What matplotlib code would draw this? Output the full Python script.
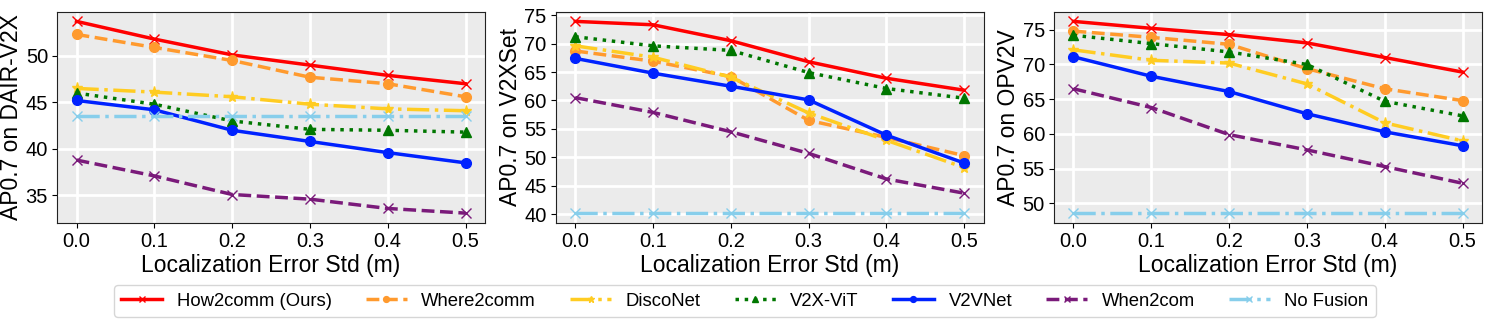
import matplotlib.pyplot as plt

plt.rcParams["font.family"] = ["Liberation Sans", "DejaVu Sans"]

std = [0.0, 0.1, 0.2, 0.3, 0.4, 0.5]
methods = ["How2comm (Ours)", "Where2comm", "DiscoNet", "V2X-ViT", "V2VNet", "When2com", "No Fusion"]

# AP0.7 per method, one list per dataset
dair = {
    "How2comm (Ours)": [53.7, 51.8, 50.1, 49.0, 47.9, 47.0],
    "Where2comm": [52.3, 50.9, 49.5, 47.7, 47.0, 45.6],
    "DiscoNet": [46.5, 46.1, 45.6, 44.8, 44.3, 44.1],
    "V2X-ViT": [46.0, 44.8, 43.0, 42.1, 42.0, 41.8],
    "V2VNet": [45.2, 44.2, 42.0, 40.8, 39.6, 38.5],
    "When2com": [38.8, 37.1, 35.1, 34.6, 33.6, 33.1],
    "No Fusion": [43.5, 43.5, 43.5, 43.5, 43.5, 43.5],
}
v2xset = {
    "How2comm (Ours)": [73.9, 73.3, 70.5, 66.8, 63.9, 61.8],
    "Where2comm": [68.7, 66.9, 64.2, 56.5, 53.5, 50.3],
    "DiscoNet": [69.6, 67.6, 64.1, 57.8, 53.0, 48.2],
    "V2X-ViT": [71.2, 69.6, 68.8, 64.9, 62.1, 60.4],
    "V2VNet": [67.4, 64.8, 62.5, 60.1, 53.9, 49.0],
    "When2com": [60.5, 57.9, 54.5, 50.7, 46.2, 43.7],
    "No Fusion": [40.2, 40.2, 40.2, 40.2, 40.2, 40.2],
}
opv2v = {
    "How2comm (Ours)": [76.2, 75.2, 74.3, 73.1, 71.0, 68.9],
    "Where2comm": [74.8, 73.9, 72.9, 69.4, 66.5, 64.8],
    "DiscoNet": [72.1, 70.6, 70.2, 67.2, 61.6, 59.0],
    "V2X-ViT": [74.2, 73.0, 71.8, 70.0, 64.7, 62.6],
    "V2VNet": [71.1, 68.3, 66.1, 62.9, 60.3, 58.3],
    "When2com": [66.5, 63.8, 59.9, 57.7, 55.3, 52.9],
    "No Fusion": [48.6, 48.6, 48.6, 48.6, 48.6, 48.6],
}

styles = {
    "How2comm (Ours)": dict(color="#FF0000", ls="-", marker="x", ms=7),
    "Where2comm": dict(color="#FF9A2E", ls="--", marker="o", ms=7),
    "DiscoNet": dict(color="#FFCC22", ls="-.", marker="*", ms=8),
    "V2X-ViT": dict(color="#007700", ls=":", marker="^", ms=7),
    "V2VNet": dict(color="#0022FF", ls="-", marker="o", ms=7),
    "When2com": dict(color="#7A1A7A", ls="--", marker="x", ms=7),
    "No Fusion": dict(color="#87CEEB", ls="-.", marker="x", ms=7),
}

panels = [
    (dair, "AP0.7 on DAIR-V2X", [35, 40, 45, 50]),
    (v2xset, "AP0.7 on V2XSet", [40, 45, 50, 55, 60, 65, 70, 75]),
    (opv2v, "AP0.7 on OPV2V", [50, 55, 60, 65, 70, 75]),
]
lefts = [0.0383, 0.373, 0.7074]

fig = plt.figure(figsize=(14.9, 3.23), dpi=100)
for left, (data, ylabel, yticks) in zip(lefts, panels):
    ax = fig.add_axes([left, 0.3105, 0.2872, 0.653])
    ax.set_facecolor("#EBEBEB")
    ax.grid(True, color="white", linewidth=2)
    ax.set_axisbelow(True)
    for name in methods:
        st = styles[name]
        ax.plot(std, data[name], color=st["color"], linestyle=st["ls"],
                marker=st["marker"], markersize=st["ms"], linewidth=2.5,
                label=name)
    ax.set_xticks(std)
    ax.set_yticks(yticks)
    ax.tick_params(labelsize=14.5, pad=3)
    ax.set_xlabel("Localization Error Std (m)", fontsize=16.5, labelpad=2)
    ax.set_ylabel(ylabel, fontsize=16.5, labelpad=2)
    for sp in ax.spines.values():
        sp.set_color("#222222")

handles, labels = ax.get_legend_handles_labels()
fig.legend(handles, labels, loc="center", bbox_to_anchor=(0.5, 0.068),
           ncol=7, fontsize=13.3, handlelength=2.2, columnspacing=1.85,
           frameon=True, edgecolor="#CCCCCC", markerscale=0.6)

fig.savefig("out.png", dpi=100)
